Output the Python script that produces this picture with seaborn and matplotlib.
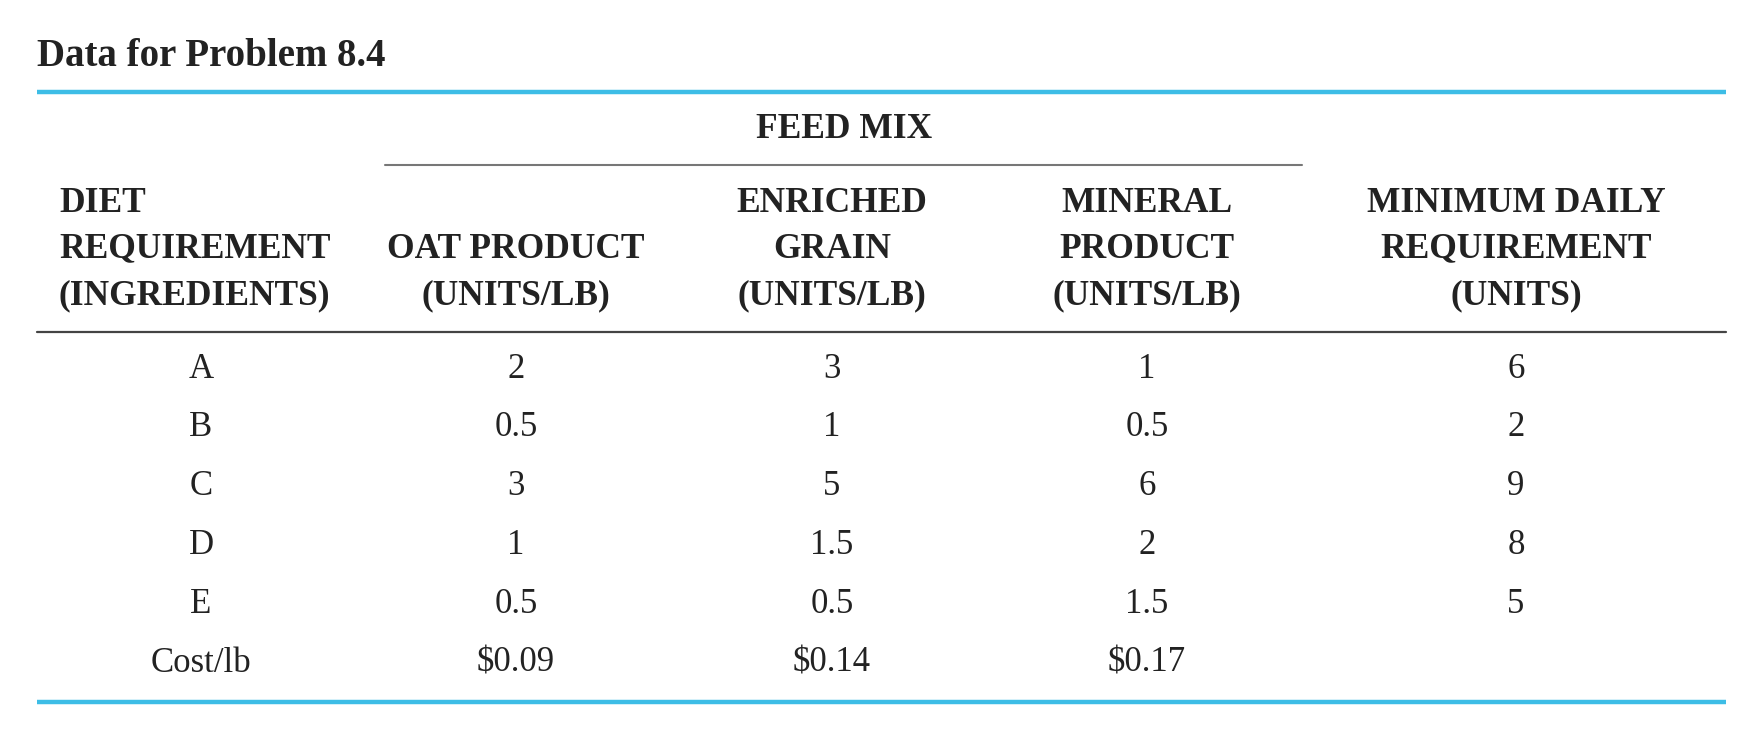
#!/usr/bin/env python3
# Table: data for problem 8.4 (feed mix diet problem)

import seaborn as sns
import matplotlib.pyplot as plt

sns.set_theme(style="white")
plt.rcParams["font.family"] = ["Liberation Serif", "DejaVu Serif"]

TITLE = "Data for Problem 8.4"
GROUP = "FEED MIX"

# header lines, bottom-aligned per column
headers = [
    ["DIET", "REQUIREMENT", "(INGREDIENTS)"],
    ["OAT PRODUCT", "(UNITS/LB)"],
    ["ENRICHED", "GRAIN", "(UNITS/LB)"],
    ["MINERAL", "PRODUCT", "(UNITS/LB)"],
    ["MINIMUM DAILY", "REQUIREMENT", "(UNITS)"],
]

ingredients = ["A", "B", "C", "D", "E", "Cost/lb"]
oat = ["2", "0.5", "3", "1", "0.5", "$0.09"]
grain = ["3", "1", "5", "1.5", "0.5", "$0.14"]
mineral = ["1", "0.5", "6", "2", "1.5", "$0.17"]
minimum = ["6", "2", "9", "8", "5", ""]

# layout (pixel space of the 1752x738 figure)
col_x = [201, 516, 832, 1147, 1516]
head_y = [204, 249, 296]
row_y0, row_dy = 369, 58.8
left, right = 37, 1726
cyan = "#3dbde6"
ink = "#222222"

fig = plt.figure(figsize=(17.52, 7.38), dpi=100)
ax = fig.add_axes([0, 0, 1, 1])
ax.set_xlim(0, 1752)
ax.set_ylim(738, 0)
ax.axis("off")

ax.text(left, 56, TITLE, fontsize=28, fontweight="bold", color=ink,
        ha="left", va="center")
ax.plot([left, right], [92, 92], color=cyan, lw=3.2, solid_capstyle="butt")

ax.text(844, 130, GROUP, fontsize=25.5, fontweight="bold", color=ink,
        ha="center", va="center")
ax.plot([385, 1302], [165, 165], color="#777777", lw=1.5)

for j, lines in enumerate(headers):
    offset = len(head_y) - len(lines)
    for k, line in enumerate(lines):
        if j == 0:
            ax.text(59, head_y[k + offset], line, fontsize=25.5, fontweight="bold",
                    color=ink, ha="left", va="center")
        else:
            ax.text(col_x[j], head_y[k + offset], line, fontsize=25.5,
                    fontweight="bold", color=ink, ha="center", va="center")

ax.plot([left, right], [332, 332], color="#444444", lw=1.6)

columns = [ingredients, oat, grain, mineral, minimum]
for j, col in enumerate(columns):
    for i, val in enumerate(col):
        ax.text(col_x[j], row_y0 + i * row_dy, val, fontsize=25, color=ink,
                ha="center", va="center")

ax.plot([left, right], [702, 702], color=cyan, lw=3.2, solid_capstyle="butt")

fig.savefig("out.png", dpi=100, facecolor="white")
